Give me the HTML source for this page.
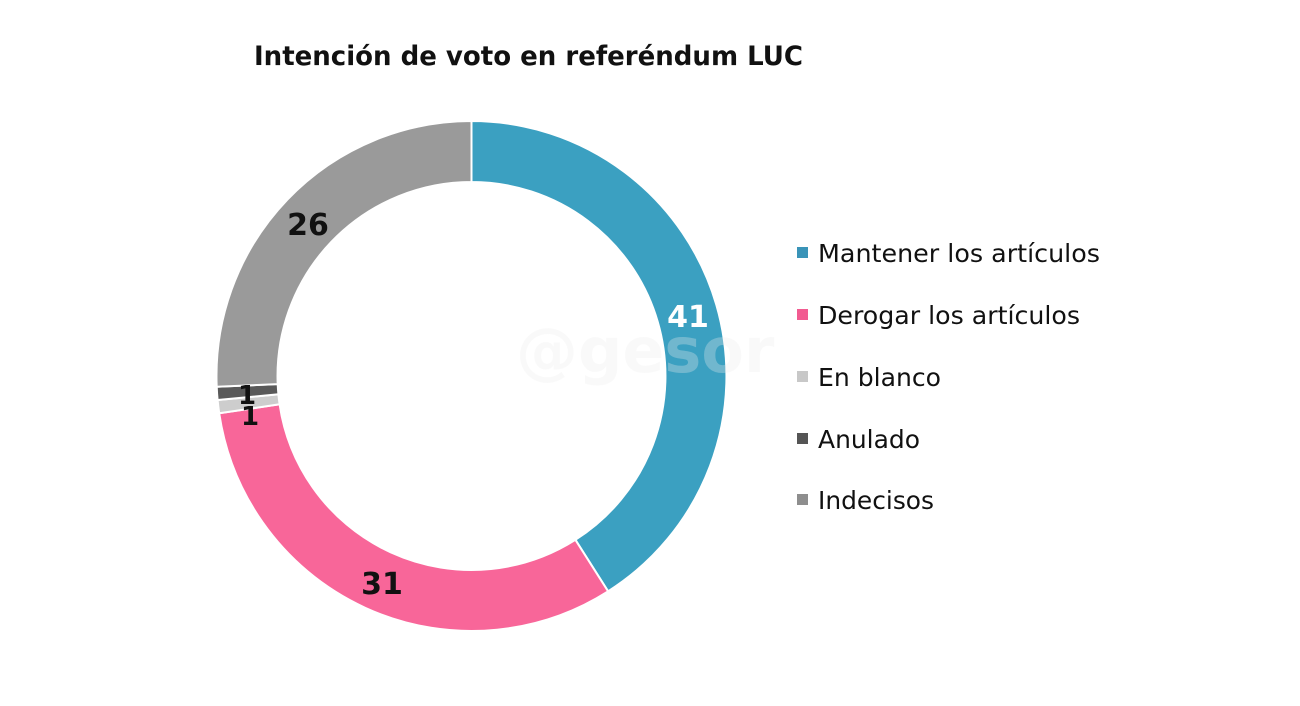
<!DOCTYPE html>
<html><head><meta charset="utf-8"><style>
html,body{margin:0;padding:0;background:#fff;width:1300px;height:706px;overflow:hidden}
svg{display:block}
text{font-family:"DejaVu Sans","Liberation Sans",sans-serif}
</style></head><body>
<svg width="1300" height="706" viewBox="0 0 1300 706">
<rect width="1300" height="706" fill="#fff"/>
<text x="254" y="65" font-size="27" font-weight="bold" fill="#111" textLength="549" lengthAdjust="spacingAndGlyphs">Intención de voto en referéndum LUC</text>
<g stroke="#fff" stroke-width="2">
<path d="M471.5,121 A255,255 0 0 1 608.1,591.3 L575.4,539.8 A194,194 0 0 0 471.5,182 Z" fill="#3ba0c1"/>
<path d="M608.1,591.3 A255,255 0 0 1 219.2,413.3 L279.6,404.3 A194,194 0 0 0 575.4,539.8 Z" fill="#f86699"/>
<path d="M219.2,413.3 A255,255 0 0 1 217.6,400 L278.4,394.3 A194,194 0 0 0 279.6,404.3 Z" fill="#cdcdcd"/>
<path d="M217.6,400 A255,255 0 0 1 216.7,386.7 L277.7,384.1 A194,194 0 0 0 278.4,394.3 Z" fill="#595959"/>
<path d="M216.7,386.7 A255,255 0 0 1 471.5,121 L471.5,182 A194,194 0 0 0 277.7,384.1 Z" fill="#9a9a9a"/>
</g>
<text x="516" y="372" font-size="62" font-weight="bold" fill="#eee" opacity="0.3">@gesor</text>
<g font-size="30" font-weight="bold" text-anchor="middle">
<text x="688" y="327" fill="#fff">41</text>
<text x="308" y="235" fill="#111">26</text>
<text x="382" y="594" fill="#111">31</text>
<text x="247" y="404" fill="#111" font-size="26">1</text>
<text x="250" y="425" fill="#111" font-size="26">1</text>
</g>
<g font-size="25" fill="#111">
<rect x="797" y="247" width="11" height="11" fill="#3a94b8"/>
<text x="818" y="262" textLength="282" lengthAdjust="spacingAndGlyphs">Mantener los artículos</text>
<rect x="797" y="309" width="11" height="11" fill="#f25b91"/>
<text x="818" y="324" textLength="262" lengthAdjust="spacingAndGlyphs">Derogar los artículos</text>
<rect x="797" y="371" width="11" height="11" fill="#c8c8c8"/>
<text x="818" y="386" textLength="123" lengthAdjust="spacingAndGlyphs">En blanco</text>
<rect x="797" y="433" width="11" height="11" fill="#555"/>
<text x="818" y="448" textLength="102" lengthAdjust="spacingAndGlyphs">Anulado</text>
<rect x="797" y="494" width="11" height="11" fill="#8e8e8e"/>
<text x="818" y="509" textLength="116" lengthAdjust="spacingAndGlyphs">Indecisos</text>
</g>
</svg>
</body></html>
